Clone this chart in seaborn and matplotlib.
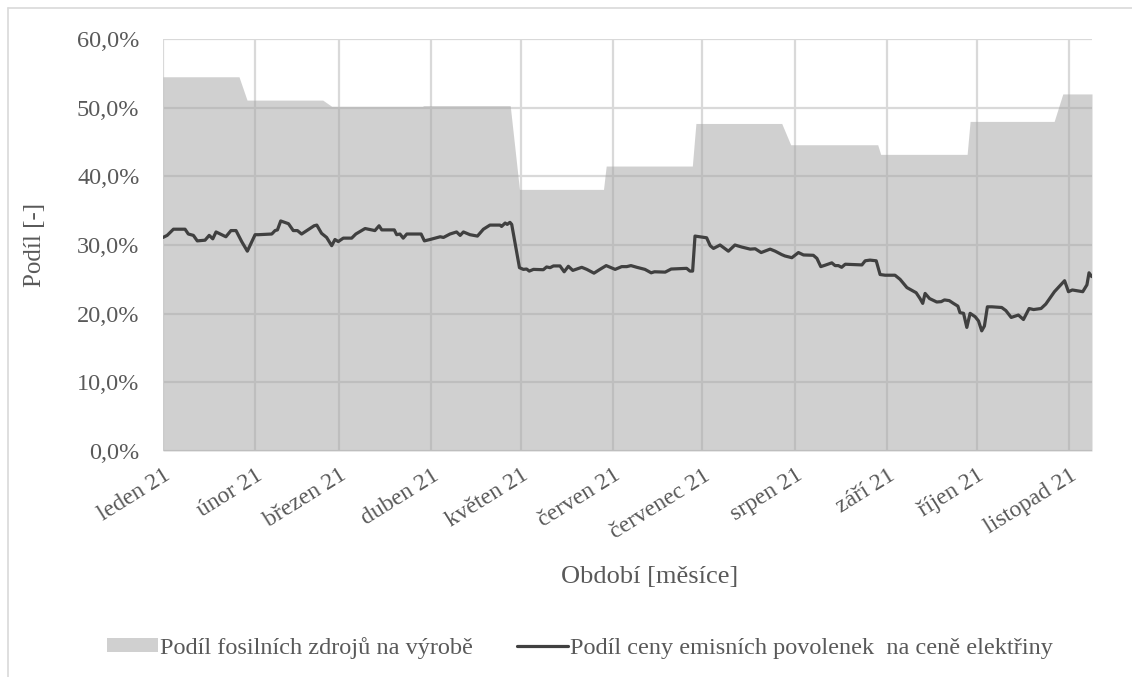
import matplotlib
matplotlib.use("Agg")
import matplotlib.pyplot as plt
from matplotlib.patches import Patch
from matplotlib.lines import Line2D
import numpy as np
import pandas as pd
import seaborn as sns

# Share of fossil sources in generation (day offset from 1 Jan 2021, %)
fossil_day = [0, 25.5, 28.2, 53.6, 56.6, 87.0, 87.5, 116.5, 119.6, 147.8, 148.7,
              177.6, 178.8, 207.6, 210.6, 239.8, 240.8, 269.8, 270.8, 299.0, 301.9, 311.7]
fossil_val = [54.5, 54.5, 51.1, 51.1, 50.2, 50.2, 50.3, 50.3, 38.1, 38.1, 41.5,
              41.5, 47.7, 47.7, 44.6, 44.6, 43.2, 43.2, 48.0, 48.0, 52.0, 52.0]

# Share of emission allowance price in electricity price (day offset, %)
allow_day = [0, 1.4, 3.5, 7.4, 8.5, 10.2, 11.5, 14.1, 15.5, 16.7, 17.8, 21.1, 22.8, 24.5,
             26.4, 28.3, 30.9, 32.0, 36.5, 37.6, 38.4, 39.5, 42.1, 43.7, 45.1, 46.5, 50.7,
             51.6, 53.2, 54.9, 56.6, 57.7, 58.8, 60.5, 63.3, 64.7, 67.8, 71.1, 72.5, 73.4,
             77.6, 78.4, 79.5, 80.6, 81.8, 86.6, 87.7, 89.6, 93.0, 94.1, 96.3, 98.5, 99.7,
             100.8, 103.0, 105.5, 107.5, 109.7, 113.1, 113.6, 114.8, 115.5, 116.4, 117.0,
             119.6, 120.9, 122.0, 122.9, 124.3, 127.6, 128.7, 129.9, 131.0, 133.2, 134.6,
             136.0, 137.5, 140.5, 142.2, 144.6, 146.6, 148.7, 151.7, 153.9, 155.6, 157.0,
             159.0, 161.7, 163.8, 164.9, 168.5, 170.5, 172.9, 175.7, 176.8, 177.7, 178.5,
             182.4, 183.6, 184.7, 186.9, 189.7, 191.9, 194.2, 197.0, 198.7, 200.7, 203.7,
             205.4, 207.6, 208.7, 211.0, 213.2, 214.9, 218.2, 219.4, 220.7, 222.1, 224.4,
             225.5, 226.6, 227.7, 228.9, 234.5, 235.6, 237.2, 239.3, 240.6, 242.3, 245.6,
             247.3, 249.6, 252.7, 254.0, 254.9, 255.7, 257.2, 259.6, 261.1, 262.2, 263.8,
             265.2, 266.7, 267.4, 268.6, 269.7, 270.8, 272.5, 273.6, 274.7, 275.6, 276.6,
             278.1, 281.4, 282.8, 284.6, 287.0, 288.7, 290.6, 292.1, 294.6, 296.2, 299.1,
             302.5, 303.8, 305.1, 308.6, 310.0, 310.7, 311.6]
allow_val = [31.1, 31.4, 32.3, 32.3, 31.6, 31.4, 30.6, 30.7, 31.4, 30.9, 31.9, 31.2, 32.1, 32.1,
             30.5, 29.1, 31.5, 31.5, 31.6, 32.1, 32.2, 33.5, 33.1, 32.1, 32.1, 31.6, 32.8,
             32.9, 31.7, 31.1, 29.9, 30.8, 30.5, 31.0, 31.0, 31.6, 32.4, 32.1, 32.8, 32.2,
             32.2, 31.5, 31.6, 31.0, 31.6, 31.6, 30.6, 30.8, 31.2, 31.1, 31.6, 31.9, 31.4,
             31.9, 31.5, 31.3, 32.3, 32.9, 32.9, 32.7, 33.2, 33.0, 33.3, 33.0,
             26.7, 26.45, 26.5, 26.2, 26.45, 26.4, 26.8, 26.7, 26.95, 26.95, 26.1,
             26.9, 26.3, 26.75, 26.45, 25.9, 26.45, 27.0, 26.45, 26.85, 26.85, 27.0,
             26.75, 26.45, 25.95, 26.1, 26.05, 26.5, 26.55, 26.6, 26.2, 26.2, 31.3,
             31.05, 29.9, 29.5, 30.0, 29.1, 30.0, 29.7, 29.4, 29.45, 28.9, 29.4,
             29.1, 28.6, 28.4, 28.15, 28.9, 28.55, 28.5, 28.05, 26.85, 27.05, 27.4,
             27.0, 27.0, 26.75, 27.2, 27.1, 27.7, 27.8, 27.7, 25.7, 25.6, 25.6,
             25.0, 23.8, 23.05, 22.2, 21.5, 22.95, 22.2, 21.7, 21.75, 22.0, 21.9,
             21.5, 21.1, 20.15, 20.05, 18.0, 20.05, 19.55, 18.95, 17.5, 18.2, 21.0,
             21.0, 20.9, 20.45, 19.45, 19.8, 19.15, 20.75, 20.6, 20.75, 21.4, 23.2,
             24.8, 23.2, 23.45, 23.2, 24.2, 25.95, 25.4]

month_labels = ["leden 21", "únor 21", "březen 21", "duben 21", "květen 21", "červen 21",
                "červenec 21", "srpen 21", "září 21", "říjen 21", "listopad 21"]
y_ticks = [0, 10, 20, 30, 40, 50, 60]

fossil_name = "Podíl fosilních zdrojů na výrobě"
allow_name = "Podíl ceny emisních povolenek  na ceně elektřiny"

base = pd.Timestamp("2021-01-01")
fossil = pd.DataFrame({"date": base + pd.to_timedelta(fossil_day, unit="D"), "value": fossil_val})
allow = pd.DataFrame({"date": base + pd.to_timedelta(allow_day, unit="D"), "value": allow_val})

sns.set_theme(style="whitegrid")
plt.rcParams["font.family"] = ["Liberation Serif", "DejaVu Serif"]

TEXT = "#595959"
GRID = "#d9d9d9"
AREA = "#a6a6a6"
LINE = "#404040"

W, H = 1132, 677
fig = plt.figure(figsize=(W / 100, H / 100), dpi=100)
ax = fig.add_axes([163 / W, 1 - 451 / H, (1092 - 163) / W, (451 - 39) / H])
ax.set_facecolor("white")

ax.fill_between(fossil["date"], 0, fossil["value"], color=AREA, alpha=0.52, linewidth=0, zorder=2)
sns.lineplot(data=allow, x="date", y="value", ax=ax, color=LINE, linewidth=2.3, zorder=3)

month_starts = pd.date_range("2021-01-01", periods=11, freq="MS")
ax.set_xlim(base, base + pd.Timedelta(days=311.7))
ax.set_xticks(month_starts)
ax.set_xticklabels(month_labels, rotation=32, ha="right", va="top", rotation_mode="anchor",
                   color=TEXT, fontsize=17)
ax.set_ylim(0, 60)
ax.set_yticks(y_ticks)
ax.set_yticklabels([f"{v:.1f}%".replace(".", ",") for v in y_ticks], color=TEXT, fontsize=17.5)
ax.tick_params(axis="both", length=0)
ax.tick_params(axis="x", pad=10)
ax.tick_params(axis="y", pad=17)

ax.grid(True, color=GRID, linewidth=1.6)
ax.set_axisbelow(True)
for s in ax.spines.values():
    s.set_visible(False)

ax.set_xlabel("")
ax.set_ylabel("")
fig.text(650 / W, 1 - 577 / H, "Období [měsíce]", color=TEXT, fontsize=19,
         ha="center", va="center")
fig.text(35 / W, 1 - 245 / H, "Podíl [-]", color=TEXT, fontsize=18,
         ha="center", va="center", rotation=90)

handles = [Patch(facecolor=AREA, alpha=0.52, edgecolor="none"),
           Line2D([0], [0], color=LINE, linewidth=2.3)]
fig.legend(handles, [fossil_name, allow_name], loc="center", bbox_to_anchor=(580 / W, 1 - 648 / H),
           ncol=2, frameon=False, fontsize=17.5, handlelength=2.1, handleheight=0.5,
           handletextpad=0.08, columnspacing=1.8, labelcolor=TEXT)

# outer chart border
fig.add_artist(Line2D([8 / W, 8 / W], [0, 1 - 8 / H], transform=fig.transFigure,
                      color=GRID, linewidth=1.2))
fig.add_artist(Line2D([8 / W, 1], [1 - 8 / H, 1 - 8 / H], transform=fig.transFigure,
                      color=GRID, linewidth=1.2))

fig.savefig("out.png", dpi=100)
